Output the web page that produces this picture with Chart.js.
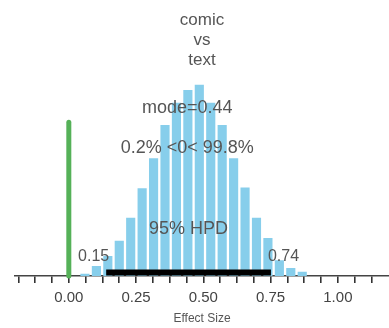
<!DOCTYPE html>
<html>
<head>
<meta charset="utf-8">
<script src="https://cdn.jsdelivr.net/npm/chart.js@4.4.1/dist/chart.umd.min.js"></script>
<style>
  html, body { margin: 0; padding: 0; background: #fff; }
  #wrap { width: 389px; height: 328px; }
</style>
</head>
<body>
<div id="wrap"><canvas id="chart"></canvas></div>
<script>
// posterior histogram (bin centres and density)
const binCenters = [0.06, 0.1025, 0.145, 0.1875, 0.23, 0.2725, 0.315, 0.3575, 0.40, 0.4425,
                    0.485, 0.5275, 0.57, 0.6125, 0.655, 0.6975, 0.74, 0.7825, 0.825, 0.8675];
const density = [0.03, 0.14, 0.28, 0.49, 0.81, 1.22, 1.64, 2.10, 2.41, 2.59,
                 2.66, 2.41, 2.10, 1.64, 1.23, 0.81, 0.53, 0.22, 0.11, 0.06];

// comparison value and HPD interval
const compValue = 0;
const compHeight = 2.14;
const hpdLimits = [0.15, 0.74];
const hpdLevel = 0.05;

// axis ticks
const tickValues = [-0.1875, -0.125, -0.0625, 0, 0.0625, 0.125, 0.1875, 0.25, 0.3125, 0.375, 0.4375,
                    0.5, 0.5625, 0.625, 0.6875, 0.75, 0.8125, 0.875, 0.9375, 1, 1.0625, 1.125];
const tickLabels = [0, 0.25, 0.5, 0.75, 1];

const titleLines = ['comic', 'vs', 'text'];
const notes = [
  { text: 'mode=0.44', x: 0.44, y: 2.34, align: 'center', size: 18 },
  { text: '0.2% <0< 99.8%', x: 0.44, y: 1.78, align: 'center', size: 18 },
  { text: '95% HPD', x: 0.445, y: 0.66, align: 'center', size: 18 },
  { text: '0.15', x: 0.15, y: 0.27, align: 'right', size: 16 },
  { text: '0.74', x: 0.74, y: 0.27, align: 'left', size: 16 }
];

const FONT = '"Liberation Sans", Arial, Helvetica, sans-serif';

// text labels placed in data coordinates
const notesPlugin = {
  id: 'notes',
  afterDatasetsDraw(chart) {
    const ctx = chart.ctx;
    const xs = chart.scales.x, ys = chart.scales.y;
    ctx.save();
    ctx.fillStyle = '#555';
    ctx.textBaseline = 'middle';
    notes.forEach(n => {
      ctx.font = n.size + 'px ' + FONT;
      ctx.textAlign = n.align;
      ctx.fillText(n.text, xs.getPixelForValue(n.x), ys.getPixelForValue(n.y));
    });
    ctx.restore();
  }
};

new Chart(document.getElementById('chart'), {
  type: 'bar',
  data: {
    datasets: [
      {
        type: 'line',
        data: hpdLimits.map(v => ({ x: v, y: hpdLevel })),
        borderColor: '#000',
        borderWidth: 6,
        borderCapStyle: 'square',
        pointRadius: 0,
        clip: false
      },
      {
        type: 'line',
        data: [{ x: compValue, y: 0 }, { x: compValue, y: compHeight }],
        borderColor: '#55b158',
        borderWidth: 5,
        borderCapStyle: 'round',
        pointRadius: 0,
        clip: false
      },
      {
        data: binCenters.map((c, i) => ({ x: c, y: density[i] })),
        backgroundColor: '#87ceeb',
        barPercentage: 0.8,
        categoryPercentage: 1
      }
    ]
  },
  options: {
    responsive: true,
    maintainAspectRatio: false,
    animation: false,
    layout: { padding: { left: 15, right: 0, top: 0, bottom: 0 } },
    plugins: {
      legend: { display: false },
      tooltip: { enabled: false },
      title: {
        display: true,
        text: titleLines,
        color: '#555',
        font: { family: FONT, size: 17, weight: 'normal', lineHeight: 1.15 },
        padding: { top: 11, bottom: 3 }
      }
    },
    scales: {
      x: {
        type: 'linear',
        min: -0.2,
        max: 1.19,
        offset: false,
        afterBuildTicks: scale => {
          scale.ticks = tickValues.map(v => ({ value: v }));
        },
        afterFit: scale => { scale.height = 52; },
        ticks: {
          autoSkip: false,
          maxRotation: 0,
          padding: 6,
          color: '#444',
          font: { family: FONT, size: 15 },
          callback: v => tickLabels.some(t => Math.abs(t - v) < 1e-6) ? v.toFixed(2) : ''
        },
        grid: {
          offset: false,
          drawOnChartArea: false,
          drawTicks: true,
          tickLength: 7,
          color: '#333',
          lineWidth: 1.6
        },
        border: { display: true, color: '#444', width: 1.5 },
        title: {
          display: true,
          text: 'Effect Size',
          color: '#555',
          font: { family: FONT, size: 12 },
          padding: { top: 0, bottom: 2 }
        }
      },
      y: {
        display: false,
        min: 0,
        max: 2.83
      }
    }
  },
  plugins: [notesPlugin]
});
</script>
</body>
</html>
